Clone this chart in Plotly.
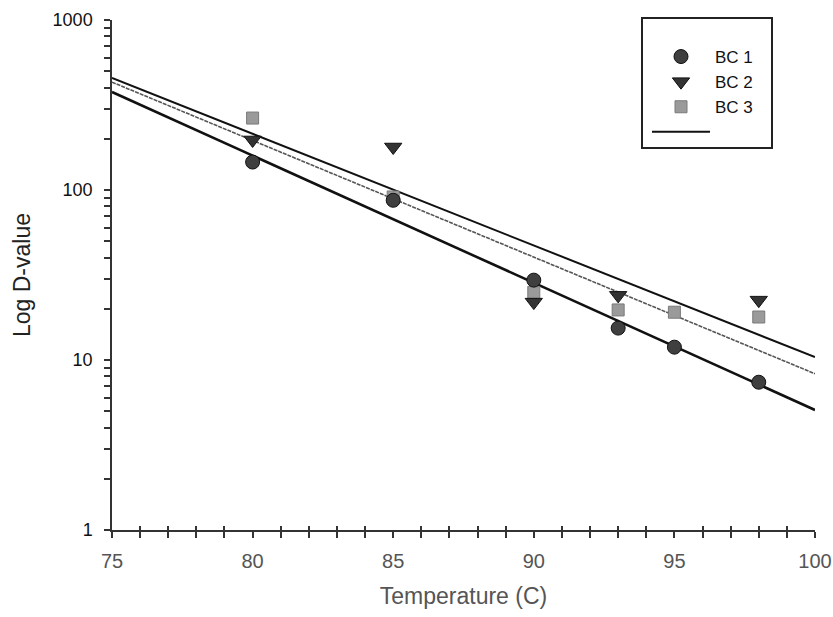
import plotly.graph_objects as go

temps = [80, 85, 90, 93, 95, 98]
bc1 = [146, 87, 29.5, 15.4, 11.9, 7.4]
bc2 = [197, 179, 21.9, 24, None, 22.5]
bc3 = [265, 91, 25, 19.7, 19.1, 17.9]

# fitted regression lines (values at 75 and 100)
fit_x = [75, 100]
fit_bc1 = [377, 5.08]
fit_bc2 = [456, 10.4]
fit_bc3 = [431, 8.3]

x_major = [75, 80, 85, 90, 95, 100]
x_ticks = list(range(75, 101))
x_minor = [v for v in x_ticks if v not in x_major]
y_major = [1, 10, 100, 1000]
y_ticks = [m * d for d in [1, 10, 100] for m in range(1, 10)] + [1000]

fig = go.Figure()
fig.add_trace(go.Scatter(x=fit_x, y=fit_bc2, mode="lines", line=dict(color="#111", width=2),
                         showlegend=False, hoverinfo="skip"))
fig.add_trace(go.Scatter(x=fit_x, y=fit_bc3, mode="lines",
                         line=dict(color="#555", width=1.6, dash="4px,1px"),
                         showlegend=False, hoverinfo="skip"))
fig.add_trace(go.Scatter(x=fit_x, y=fit_bc1, mode="lines", line=dict(color="#111", width=2.6),
                         showlegend=False, hoverinfo="skip"))
fig.add_trace(go.Scatter(x=temps, y=bc3, mode="markers", name="BC 3", legendrank=3,
                         marker=dict(symbol="square", size=12, color="#9a9a9a",
                                     line=dict(color="#7a7a7a", width=1))))
fig.add_trace(go.Scatter(x=temps, y=bc2, mode="markers", name="BC 2", legendrank=2,
                         marker=dict(symbol="triangle-down", size=15, color="#333",
                                     line=dict(color="#111", width=1))))
fig.add_trace(go.Scatter(x=temps, y=bc1, mode="markers", name="BC 1", legendrank=1,
                         marker=dict(symbol="circle", size=14, color="#3f3f3f",
                                     line=dict(color="#111", width=1))))
# legend-only line entry (no label in the original)
fig.add_trace(go.Scatter(x=[None], y=[None], mode="lines", name=" ", legendrank=4,
                         line=dict(color="#111", width=2)))
# invisible trace to carry the secondary (minor cross-tick) axis
fig.add_trace(go.Scatter(x=[75, 100], y=[1, 1], xaxis="x2", mode="markers",
                         marker=dict(opacity=0), showlegend=False, hoverinfo="skip"))

tick_col = "#333"
fig.update_layout(
    width=833, height=617,
    margin=dict(l=112, r=18, t=20, b=87, autoexpand=False),
    plot_bgcolor="white", paper_bgcolor="white",
    font=dict(family="Liberation Sans, Arial, sans-serif", color="#222", size=14),
    showlegend=True,
    legend=dict(
        x=(647 - 112) / 703, y=1.0 - (39 - 20) / 510, xanchor="left", yanchor="top",
        bgcolor="rgba(0,0,0,0)", borderwidth=0,
        font=dict(size=17, color="#111"),
        itemwidth=58, tracegroupgap=0,
    ),
    xaxis=dict(
        range=[75, 100], tickmode="array", tickvals=x_ticks, automargin=False,
        ticktext=[str(v) if v in x_major else "" for v in x_ticks],
        showgrid=False, zeroline=False, showline=True, linecolor=tick_col, linewidth=1.5,
        ticks="outside", ticklen=6, tickcolor=tick_col, tickwidth=1.5,
        ticklabelstandoff=6,
        tickfont=dict(size=20, color="#555"),
        title=dict(text="Temperature (C)", font=dict(size=23, color="#555"), standoff=17),
    ),
    xaxis2=dict(
        range=[75, 100], overlaying="x", anchor="y", side="bottom", automargin=False,
        tickmode="array", tickvals=x_minor, ticktext=["" for _ in x_minor],
        showgrid=False, zeroline=False, showline=False,
        ticks="inside", ticklen=4, tickcolor=tick_col, tickwidth=1.5,
    ),
    yaxis=dict(
        type="log", range=[0, 3], tickmode="array", tickvals=y_ticks, automargin=False,
        ticktext=[str(v) if v in y_major else "" for v in y_ticks],
        showgrid=False, zeroline=False, showline=True, linecolor=tick_col, linewidth=1.5,
        ticks="outside", ticklen=6, tickcolor=tick_col, tickwidth=1.5,
        ticklabelstandoff=8,
        tickfont=dict(size=18, color="#111"),
        title=dict(text="Log D-value", font=dict(size=23, color="#222"), standoff=16),
    ),
    shapes=[dict(type="rect", xref="paper", yref="paper",
                 x0=(642 - 112) / 703, x1=(772 - 112) / 703,
                 y0=(530 - 148) / 510, y1=(530 - 18) / 510,
                 line=dict(color="#222", width=2), fillcolor="rgba(0,0,0,0)")],
)

fig.write_html("out.html")
